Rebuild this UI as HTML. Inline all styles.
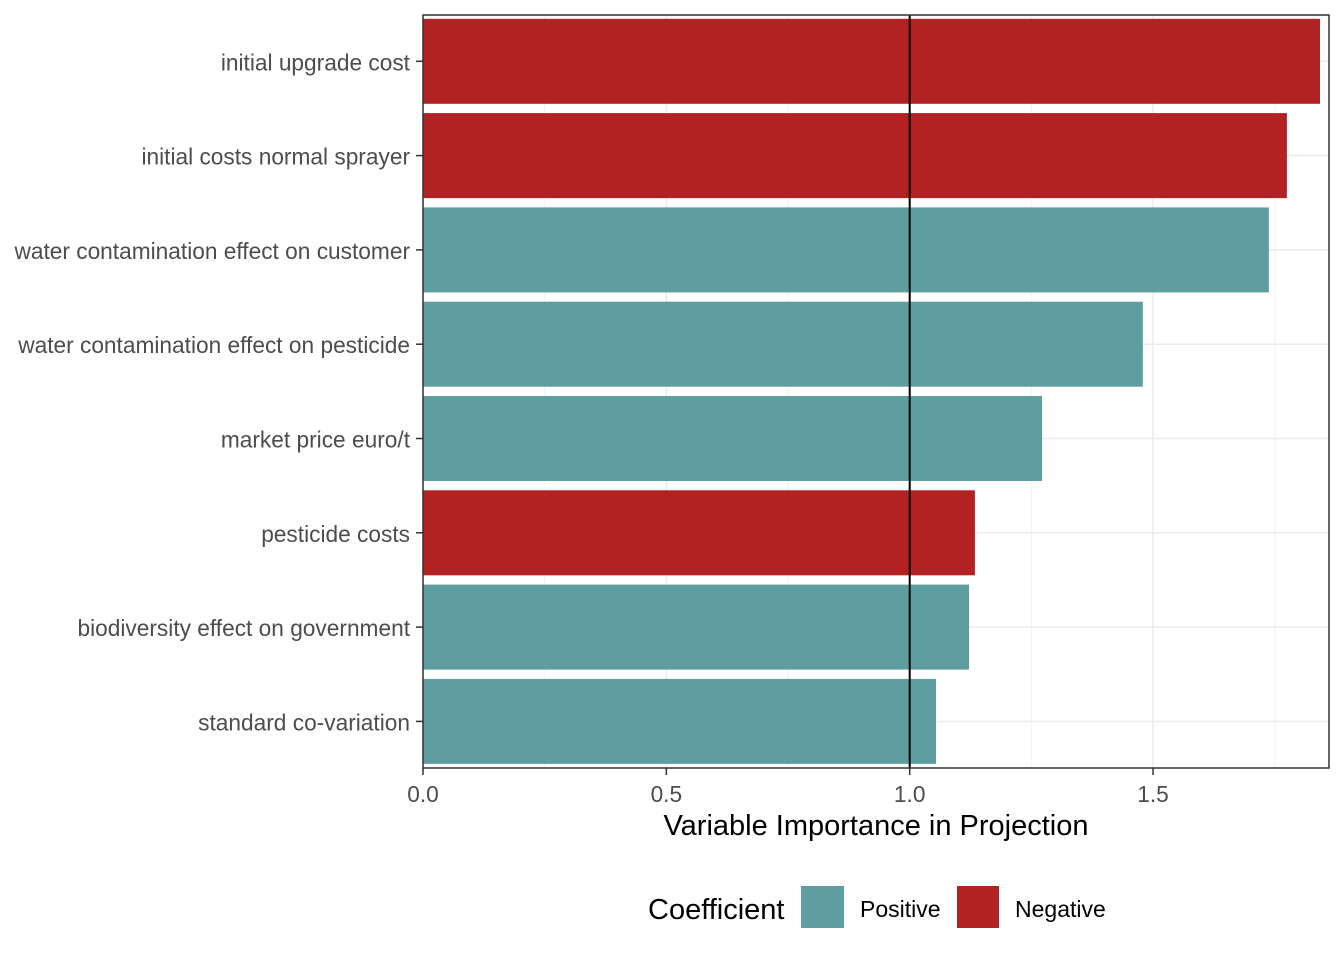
<!DOCTYPE html>
<html><head><meta charset="utf-8"><style>
body{margin:0;background:#fff;}
svg text{font-family:"Liberation Sans",Arial,sans-serif;}
</style></head><body>
<svg id="chart" width="1344" height="960" xmlns="http://www.w3.org/2000/svg"></svg>
<script>
const categories=["initial upgrade cost","initial costs normal sprayer","water contamination effect on customer","water contamination effect on pesticide","market price euro/t","pesticide costs","biodiversity effect on government","standard co-variation"];
const values=[1.843,1.775,1.738,1.479,1.272,1.134,1.122,1.054];
const signs=["Negative","Negative","Positive","Positive","Positive","Negative","Positive","Positive"];
const xTicks=[0,0.5,1.0,1.5];
const xTickLabels=["0.0","0.5","1.0","1.5"];
const minorTicks=[0.25,0.75,1.25,1.75];
const refLine=1.0;

const NS="http://www.w3.org/2000/svg";
const svg=document.getElementById('chart');
const L=423,R=1329,T=15,B=768;
const x=v=>L+v*486.7;
const step=94.3, y=i=>61.3+i*step, bh=85;
const col={Positive:"#5F9EA0",Negative:"#B22222"};
function mk(t,a,p){const e=document.createElementNS(NS,t);for(const k in a)e.setAttribute(k,a[k]);(p||svg).appendChild(e);return e;}

const grid=mk('g',{});


minorTicks.forEach(v=>mk('line',{x1:x(v),x2:x(v),y1:T,y2:B,stroke:"#f2f2f2","stroke-width":1},grid));
xTicks.forEach(v=>mk('line',{x1:x(v),x2:x(v),y1:T,y2:B,stroke:"#ebebeb","stroke-width":1.5},grid));
categories.forEach((c,i)=>mk('line',{x1:L,x2:R,y1:y(i),y2:y(i),stroke:"#ebebeb","stroke-width":1.5},grid));

categories.forEach((c,i)=>{
 const r=mk('rect',{x:L,y:y(i)-bh/2,width:x(values[i])-L,height:bh,fill:col[signs[i]]});
 
 
 const t=mk('text',{x:410,y:y(i)+9,"text-anchor":"end","font-size":22.7,fill:"#4d4d4d"});
 t.textContent=c;
 
 
 mk('line',{x1:416,x2:L,y1:y(i),y2:y(i),stroke:"#333","stroke-width":1.5});
});
const rl=mk('line',{x1:x(refLine),x2:x(refLine),y1:T,y2:B,stroke:"#000","stroke-width":2});


const fr=mk('rect',{x:L,y:T,width:R-L,height:B-T,fill:"none",stroke:"#333","stroke-width":1.5});


xTicks.forEach((v,i)=>{
 mk('line',{x1:x(v),x2:x(v),y1:B,y2:B+7,stroke:"#333","stroke-width":1.5});
 const t=mk('text',{x:x(v),y:802,"text-anchor":"middle","font-size":22.7,fill:"#4d4d4d"});
 t.textContent=xTickLabels[i];
 
 
});
const xt=mk('text',{x:876,y:835,"text-anchor":"middle","font-size":29,fill:"#000"});
xt.textContent="Variable Importance in Projection";



const lg=mk('g',{});


const lt=mk('text',{x:648,y:919,"font-size":29,fill:"#000"},lg);lt.textContent="Coefficient";
mk('rect',{x:801,y:886,width:43,height:42,fill:col.Positive},lg);
const p=mk('text',{x:860,y:917,"font-size":23,fill:"#000"},lg);p.textContent="Positive";
mk('rect',{x:957,y:886,width:42,height:42,fill:col.Negative},lg);
const n=mk('text',{x:1015,y:917,"font-size":23,fill:"#000"},lg);n.textContent="Negative";
</script>
</body></html>
